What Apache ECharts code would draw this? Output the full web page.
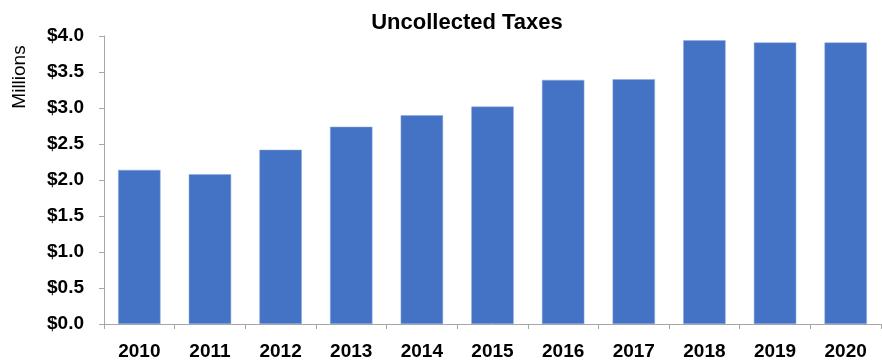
<!DOCTYPE html>
<html>
<head>
<meta charset="utf-8">
<script src="https://cdn.jsdelivr.net/npm/echarts@6/dist/echarts.min.js"></script>
<style>html,body{margin:0;padding:0;background:#fff}#c{width:882px;height:364px}</style>
</head>
<body>
<div id="c"></div>
<script>
var categories = ['2010','2011','2012','2013','2014','2015','2016','2017','2018','2019','2020'];
var values = [2.14, 2.08, 2.42, 2.74, 2.90, 3.02, 3.39, 3.40, 3.94, 3.91, 3.91];
var yTicks = [0, 0.5, 1, 1.5, 2, 2.5, 3, 3.5, 4];

var chart = echarts.init(document.getElementById('c'));
var font = '"Liberation Sans", Arial, sans-serif';
chart.setOption({
  animation: false,
  title: {
    text: 'Uncollected Taxes',
    left: 462, top: 7, textAlign: 'center',
    textStyle: {fontFamily: font, fontWeight: 'bold', fontSize: 22, color: '#000'}
  },
  graphic: [{
    type: 'text', x: 20, y: 77, rotation: Math.PI / 2,
    style: {text: 'Millions', fontFamily: font, fontSize: 19, fill: '#000', align: 'center', verticalAlign: 'middle'}
  }],
  grid: {left: 104, right: 1, top: 36, bottom: 40, containLabel: false},
  xAxis: {
    type: 'category', data: categories,
    axisLine: {lineStyle: {color: '#a6a6a6', width: 1}},
    axisTick: {show: true, length: 5, lineStyle: {color: '#a6a6a6'}},
    axisLabel: {fontFamily: font, fontWeight: 'bold', fontSize: 19, color: '#000', margin: 18}
  },
  yAxis: {
    type: 'value', min: 0, max: 4, interval: 0.5,
    axisLine: {show: true, lineStyle: {color: '#a6a6a6', width: 1}},
    axisTick: {show: true, length: 5, lineStyle: {color: '#a6a6a6'}},
    splitLine: {show: false},
    axisLabel: {
      fontFamily: font, fontWeight: 'bold', fontSize: 19, color: '#000', margin: 20,
      formatter: function (v) { return '$' + v.toFixed(1); }
    }
  },
  series: [{
    type: 'bar', data: values, barCategoryGap: '40%',
    itemStyle: {color: '#4472C4', borderColor: '#8fabdc', borderWidth: 0.5}
  }]
});
</script>
</body>
</html>
